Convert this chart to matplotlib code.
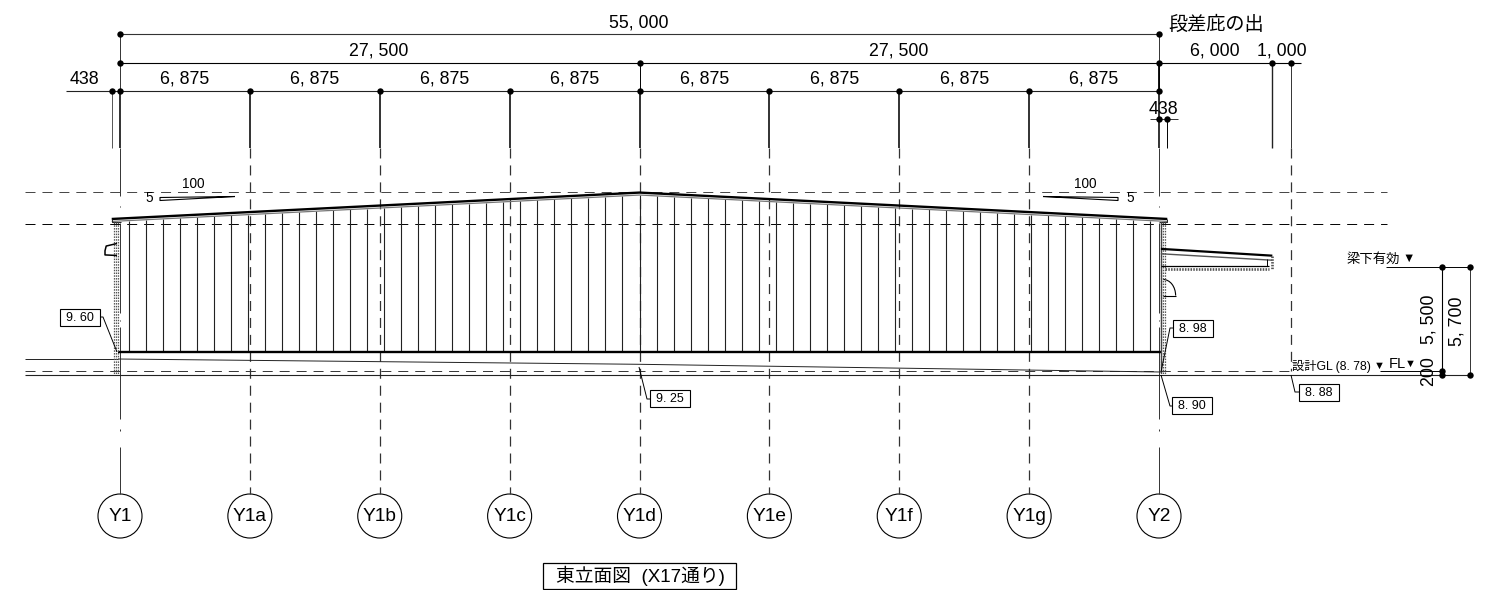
import matplotlib
matplotlib.use("Agg")
import matplotlib.pyplot as plt
import numpy as np
from matplotlib.patches import Arc, Circle, Rectangle
from matplotlib.transforms import Affine2D

plt.rcParams['font.family'] = ['Liberation Sans', 'Noto Sans CJK JP', 'DejaVu Sans']
plt.rcParams['lines.scale_dashes'] = False
plt.rcParams['lines.solid_capstyle'] = 'butt'
plt.rcParams['lines.dash_capstyle'] = 'butt'

# building data in mm, x from grid Y1, y from FL
grid_x = [0, 6875, 13750, 20625, 27500, 34375, 41250, 48125, 55000]
grid_names = ["Y1", "Y1a", "Y1b", "Y1c", "Y1d", "Y1e", "Y1f", "Y1g", "Y2"]
rib_x = [500, 1400, 2300, 3200, 4100, 5000, 5900, 6800, 7700, 8600, 9500, 10400, 11300,
         12200, 13100, 14000, 14900, 15800, 16700, 17600, 18500, 19400, 20300, 21200,
         22100, 23000, 23900, 24800, 25700, 26600, 27500, 28400, 29300, 30200, 31100,
         32000, 32900, 33800, 34700, 35600, 36500, 37400, 38300, 39200, 40100, 41000,
         41900, 42800, 43700, 44600, 45500, 46400, 47300, 48200, 49100, 50000, 50900,
         51800, 52700, 53600, 54500]
roof_x = [-438, 27500, 55438]
roof_y = [8233, 9630, 8233]
ground_x = [-106, 27500, 55100]
ground_y = [820, 540, 132]
span_labels = ["6, 875"] * 8

row_all = 18000
row_half = 16500
row_grid = 15000
row_eave = 13500
ext_end = 12000
level_ridge = 9660
level_eave = 7970
level_end = 67070
base_y = 1190
fl_y = 200
beam_y = 5700
dim_a = 70000
dim_b = 71450

S = 55000 / 1039
W, H = 1493, 590

fig = plt.figure(figsize=(W / 100, H / 100), dpi=100)
ax = fig.add_axes([0, 0, 1, 1])
ax.set_xlim(-120 * S, (W - 120) * S)
ax.set_ylim((374.5 - H) * S, 374.5 * S)
ax.axis('off')

# overlay for annotation furniture: picture pixels, y down
px = Affine2D().scale(1, -1).translate(0, H)

DASH = (0, (7.2, 5))
STIPPLE = (0, (1.1, 0.9))
thin = 0.7
thick = 1.3


def seg(x0, y0, x1, y1, lw=thin, ls='-', color='black'):
    ax.plot([x0, x1], [y0, y1], color=color, lw=lw, ls=ls)


# dimension rows
seg(0, row_all, 55000, row_all, lw=0.8, color='#333333')
seg(0, row_half, 62540, row_half, lw=0.8)
seg(-2860, row_grid, 55000, row_grid, lw=0.8, color='#222222')
seg(54530, row_eave, 56010, row_eave, color='#333333')

# grid lines
for gx in grid_x:
    seg(gx, row_grid, gx, ext_end, lw=thick, color='#222222')
    if gx in (0, 55000):
        seg(gx, row_all, gx, row_grid, color='#333333')
        for a, b in [(ext_end, 9423), (8920, 8860), (8020, 3256), (2880, 2820), (2515, -2356),
                     (-2910, -2970), (-3838, -6326)]:
            seg(gx, a, gx, b, color='#333333')
    else:
        seg(gx, ext_end, gx, -6326, ls=DASH, color='#333333', lw=0.9)
seg(27500, row_half, 27500, row_grid)
seg(55000, row_half, 55000, row_grid, lw=thick)

# extension lines beyond the grid
seg(-438, row_grid, -438, ext_end, color='#555555')
seg(55438, row_eave, 55438, ext_end)
seg(61000, row_half, 61000, ext_end, lw=1.0, color='#222222')
seg(62000, row_half, 62000, ext_end, color='#333333')
seg(62000, ext_end, 62000, fl_y, ls=DASH, color='#333333', lw=0.9)

# level lines
seg(-5030, level_ridge, level_end, level_ridge, ls=DASH, color='#444444')
seg(-5030, level_eave, level_end, level_eave, ls=DASH)
seg(-5030, fl_y, 62000, fl_y, ls=DASH, color='#333333')
seg(-5030, 0, dim_b, 0, lw=0.8, color='#222222')
seg(66700, fl_y, dim_a, fl_y)
seg(67020, beam_y, dim_b, beam_y)
seg(dim_a, 0, dim_a, beam_y, lw=0.8)
seg(dim_b, 0, dim_b, beam_y, color='#333333')

# roof and wall
rib_top = np.interp(rib_x, roof_x, np.array(roof_y) - 130)
ax.vlines(rib_x, base_y, rib_top, color='#222222', lw=0.8)
ax.plot(roof_x, roof_y, color='black', lw=1.7, solid_joinstyle='miter')
ax.plot(roof_x, np.array(roof_y) - 130, color='#777777', lw=0.9)
seg(-106, base_y, 55160, base_y, lw=1.7)
ax.plot([-5030, -106], [820, 820], color='#222222', lw=thin)
ax.plot(ground_x, ground_y, color='#222222', lw=thin)
ax.plot([-438, -438, 30], [8233, 8050, 8050], color='#222222', lw=0.7)
ax.plot([55438, 55438, 55000], [8233, 8050, 8050], color='#222222', lw=0.7)

# stippled wall ends
for wx in [-344, -225, -106, 55115, 55220, 55330]:
    seg(wx, 8050, wx, 30, lw=0.9, ls=STIPPLE, color='#555555')
seg(55100, 8050, 55100, 100, lw=1.0, color='#444444')

# doors
ax.plot([-159, -730, -794, -794, -159], [6935, 6800, 6550, 6330, 6300], color='black', lw=1.1)
ax.add_patch(Arc((55220, 4180), 1320, 1700, theta1=0, theta2=90, color='black', lw=0.8))
seg(55220, 4180, 55900, 4180, lw=0.8)

# canopy
canopy_x = [55100, 61000]
ax.plot(canopy_x, [6650, 6290], color='black', lw=1.6)
ax.plot(canopy_x, [6390, 6050], color='#555555', lw=1.0)
seg(60720, 6100, 60720, 5760)
seg(55100, 5760, 60800, 5760, lw=0.9)
seg(55300, 5600, 60800, 5600, lw=1.9, ls=STIPPLE, color='#555555')
seg(60960, 6250, 60960, 5600, lw=1.9, ls=STIPPLE, color='#555555')

# dimension dots
dot_x = [0, 55000, 0, 27500, 55000, 61000, 62000, -438] + grid_x + [55000, 55438, dim_a, dim_b, dim_a, dim_a, dim_b]
dot_y = [row_all] * 2 + [row_half] * 5 + [row_grid] * 10 + [row_eave] * 2 + [beam_y] * 2 + [fl_y, 0, 0]
ax.plot(dot_x, dot_y, ls='none', marker='o', ms=4.6, color='black', mew=0, zorder=5)

# grid bubbles
for gx, name in zip(grid_x, grid_names):
    ax.add_patch(Circle((gx, -7491), 1165, fc='white', ec='black', lw=0.8))
    ax.text(gx, -7491, name, ha='center', va='center', fontsize=13.8)

# dimension text, placed in picture pixels
t_kw = dict(ha='center', va='center', fontsize=12.8, transform=px)
ax.text(639, 23, "55, 000", **t_kw)
ax.text(379, 51, "27, 500", **t_kw)
ax.text(899, 51, "27, 500", **t_kw)
ax.text(1215, 51, "6, 000", **t_kw)
ax.text(1282, 51, "1, 000", **t_kw)
for i, lab in enumerate(span_labels):
    mx = (grid_x[i] + grid_x[i + 1]) / 2
    ax.text(mx, row_grid + 12.5 * S, lab, ha='center', va='center', fontsize=12.8)
ax.text(84, 80, "438", **t_kw)
ax.text(1163.5, 109, "438", **t_kw)
ax.text(1216, 25, "段差庇の出", ha='center', va='center', fontsize=13.8, transform=px)
ax.text(1428.5, 319, "5, 500", rotation=90, **t_kw)
ax.text(1456.5, 321, "5, 700", rotation=90, **t_kw)
ax.text(1428.5, 371.5, "200", rotation=90, **t_kw)
ax.text(1347, 259, "梁下有効", ha='left', va='center', fontsize=9.6, transform=px)
ax.text(1409, 259, "▼", ha='center', va='center', fontsize=9, transform=px)
ax.text(1292, 366, "設計GL (8. 78)", ha='left', va='center', fontsize=8.8, transform=px)
ax.text(1379, 366, "▼", ha='center', va='center', fontsize=8, transform=px)
ax.text(1389, 364, "FL", ha='left', va='center', fontsize=10.5, transform=px)
ax.text(1410, 364, "▼", ha='center', va='center', fontsize=8, transform=px)

# slope marks
s_kw = dict(ha='center', va='center', fontsize=9.8, transform=px)
ax.text(193.7, 184, "100", **s_kw)
ax.text(149, 198, "5", **s_kw)
ax.text(1085, 184, "100", **s_kw)
ax.text(1130, 198, "5", **s_kw)
ax.plot([235, 160, 160, 235], [196.5, 197.5, 200.5, 196.5], transform=px, color='black', lw=0.8)
ax.plot([1043, 1118, 1118, 1043], [196.5, 197.5, 200.5, 196.5], transform=px, color='black', lw=0.8)

# level tags
tags = ["9. 60", "8. 98", "8. 90", "8. 88", "9. 25"]
tag_left = [60, 1173, 1172, 1299, 650]
tag_top = [309, 320, 397, 384, 390]
leader_x = [[100, 103, 117], [1173, 1170, 1161], [1172, 1170, 1161], [1299, 1295, 1291], [650, 647, 639]]
leader_y = [[317, 317, 352], [328, 328, 372], [406, 406, 375], [392, 392, 375], [399, 399, 367]]
for name, tx, ty, lx, ly in zip(tags, tag_left, tag_top, leader_x, leader_y):
    ax.add_patch(Rectangle((tx, ty), 40, 17, fc='white', ec='black', lw=0.8, transform=px, zorder=6))
    ax.text(tx + 20, ty + 9, name, ha='center', va='center', fontsize=9, transform=px, zorder=7)
    ax.plot(lx, ly, transform=px, color='black', lw=0.7)

# title
ax.add_patch(Rectangle((543, 563), 193, 26, fc='white', ec='black', lw=0.9, transform=px))
ax.text(640, 576, "東立面図  (X17通り)", ha='center', va='center', fontsize=13.5, transform=px)

fig.savefig("out.png", dpi=100)
